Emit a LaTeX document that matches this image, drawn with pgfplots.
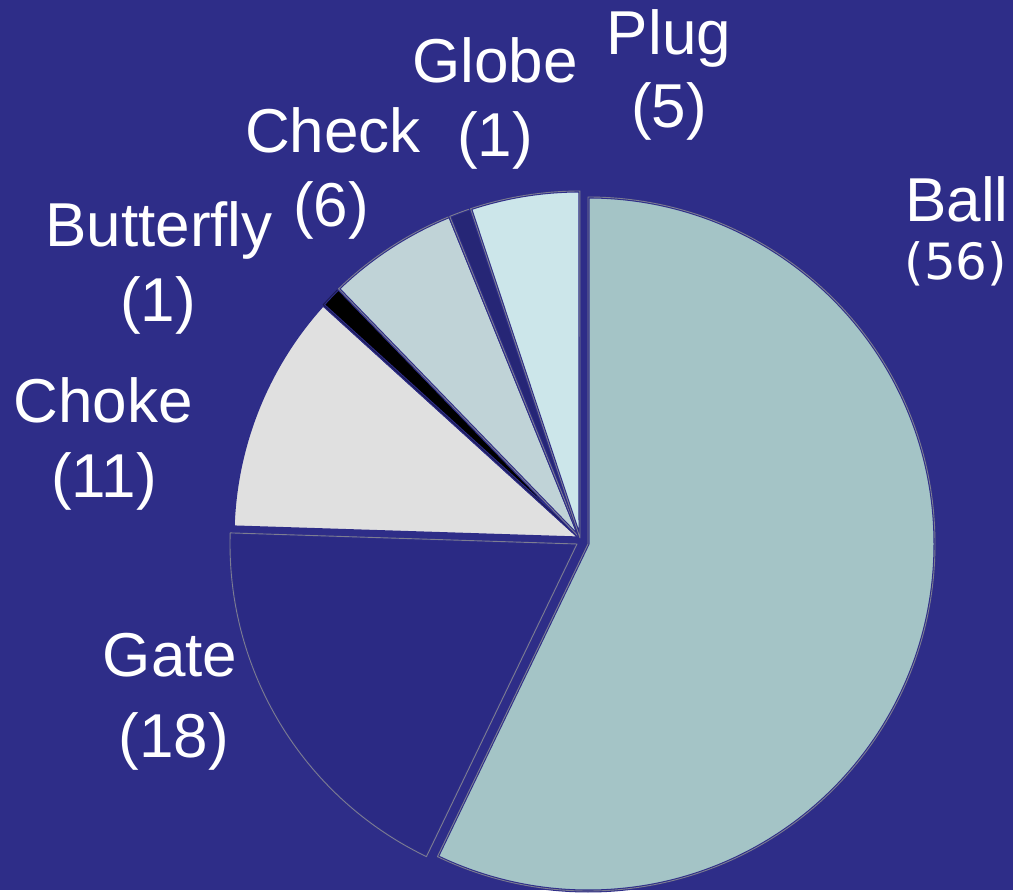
\documentclass[border=0pt]{standalone}
\usepackage{pgfplots}
\usepackage{pgfplotstable}
\pgfplotsset{compat=1.18}
\usepackage{fontspec}
\setmainfont{Liberation Sans}
\newfontfamily\dejavu{DejaVu Sans}
\definecolor{bgc}{RGB}{46,45,136}
\definecolor{ballc}{RGB}{164,196,198}
\definecolor{plugc}{RGB}{204,230,234}
\definecolor{checkc}{RGB}{192,211,215}
\definecolor{chokec}{RGB}{224,224,224}
\definecolor{butterc}{RGB}{0,0,0}
\definecolor{globec}{RGB}{38,38,118}
\definecolor{gatec}{RGB}{43,42,132}
\definecolor{outl}{RGB}{125,125,145}
\pgfplotstableread{
name value
Ball 56
Gate 18
Choke 11
Butterfly 1
Check 6
Globe 1
Plug 5
}\piedata
\newcommand\A[1]{\csname ang#1\endcsname}
\newcommand\slicepath[4]{(axis cs:#1,#2) -- (axis cs:{#1+347*cos(#3)},{#2+347*sin(#3)}) arc[start angle=#3,end angle=#4,radius=347pt] -- cycle}
\newcommand\slice[6]{%
  \fill[#5] \slicepath{#1}{#2}{#3}{#4};
  \draw[bgc, line width=3pt, line join=round] \slicepath{#1}{#2}{#3}{#4};
  \draw[#6, line width=0.9pt, line join=round] \slicepath{#1}{#2}{#3}{#4};
}
\newcommand\lab[3]{\node[anchor=base, text=white, inner sep=0pt, font=\fontsize{62}{70}\selectfont] at (axis cs:#1,#2) {#3};}
\begin{document}
\begin{tikzpicture}%
\gdef\total{0}%
\pgfplotsforeachungrouped \i in {0,...,6}{%
  \pgfplotstablegetelem{\i}{value}\of\piedata
  \pgfmathparse{\total+\pgfplotsretval}\xdef\total{\pgfmathresult}}%
\xdef\angcur{90}%
\expandafter\xdef\csname ang0\endcsname{90}%
\pgfplotsforeachungrouped \i in {0,...,6}{%
  \pgfplotstablegetelem{\i}{value}\of\piedata
  \pgfmathparse{\angcur-360*(\pgfplotsretval/\total)}\xdef\angcur{\pgfmathresult}%
  \pgfmathtruncatemacro\j{\i+1}%
  \expandafter\xdef\csname ang\j\endcsname{\angcur}}%
\begin{axis}[x=1pt, y=1pt, xmin=0, xmax=1013, ymin=0, ymax=890,
  hide axis, clip=false, scale only axis]
\fill[bgc] (axis cs:0,0) rectangle (axis cs:1013,890);
% Gate
\slice{577}{346}{\A1}{\A2}{gatec}{outl}
% Choke
\slice{580}{352}{\A2}{\A3}{chokec}{bgc}
% Butterfly
\slice{580}{352}{\A3}{\A4}{butterc}{bgc!60!black}
% Check
\slice{580}{352}{\A4}{\A5}{checkc}{outl}
% Globe
\slice{580}{352}{\A5}{\A6}{globec}{outl}
% Plug
\slice{580}{352}{\A6}{\A7}{plugc}{outl}
% Ball
\slice{588}{346}{\A0}{\A1}{ballc}{outl}
% labels
\lab{957}{668}{Ball}
\node[anchor=base, text=white, inner sep=0pt, font=\dejavu\fontsize{50}{56}\selectfont] at (axis cs:956,610) {(56)};
\lab{669}{835}{Plug}
\lab{669}{762}{(5)}
\lab{495}{807}{Globe}
\lab{495}{733}{(1)}
\lab{333}{737}{Check}
\lab{331}{663}{(6)}
\lab{159}{643}{Butterfly}
\lab{158}{568}{(1)}
\lab{103}{467}{Choke}
\lab{104}{392}{(11)}
\lab{170}{213}{Gate}
\lab{174}{132}{(18)}
\end{axis}
\end{tikzpicture}
\end{document}
